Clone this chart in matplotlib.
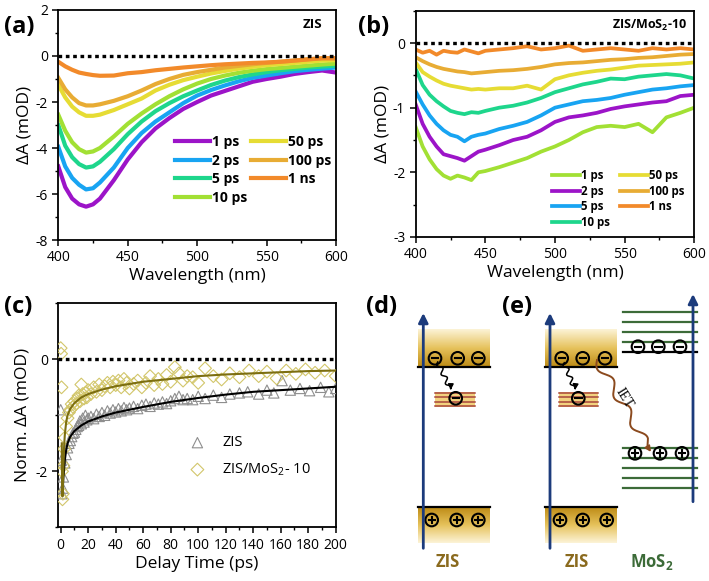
import numpy as np
import matplotlib
matplotlib.use("Agg")
import matplotlib.pyplot as plt
from matplotlib.patches import Circle, Rectangle
from matplotlib.colors import LinearSegmentedColormap
from matplotlib.ticker import MultipleLocator

plt.rcParams.update({
    "font.family": ["Open Sans", "DejaVu Sans"],
    "mathtext.fontset": "custom",
    "mathtext.rm": "Open Sans",
    "mathtext.bf": "Open Sans:bold",
    "axes.unicode_minus": False,
    "axes.linewidth": 1.3,
    "xtick.direction": "out", "ytick.direction": "out",
    "xtick.major.size": 4, "ytick.major.size": 4,
    "xtick.minor.size": 2.5, "ytick.minor.size": 2.5,
    "xtick.major.width": 1.1, "ytick.major.width": 1.1,
    "xtick.minor.width": 1.0, "ytick.minor.width": 1.0,
    "xtick.labelsize": 10, "ytick.labelsize": 10,
})

# ---------------- data: panel (a) ZIS ----------------
wl_a = [400, 405, 410, 415, 420, 425, 430, 440, 450, 460, 470, 480, 490, 500,
        510, 520, 530, 540, 550, 560, 570, 580, 590, 600]
a_1ps = [-4.8, -5.7, -6.2, -6.45, -6.55, -6.45, -6.2, -5.4, -4.5, -3.75, -3.15, -2.7,
         -2.3, -2.0, -1.72, -1.52, -1.32, -1.12, -1.0, -0.9, -0.78, -0.7, -0.63, -0.72]
a_2ps = [-3.95, -4.8, -5.3, -5.6, -5.8, -5.75, -5.5, -4.85, -4.0, -3.35, -2.85, -2.45,
         -2.05, -1.72, -1.48, -1.28, -1.1, -0.95, -0.85, -0.75, -0.66, -0.6, -0.55, -0.5]
a_5ps = [-3.0, -3.9, -4.4, -4.7, -4.85, -4.8, -4.6, -4.05, -3.4, -2.85, -2.4, -2.05,
         -1.75, -1.5, -1.26, -1.07, -0.92, -0.8, -0.7, -0.62, -0.56, -0.5, -0.46, -0.42]
a_10ps = [-2.55, -3.25, -3.75, -4.05, -4.2, -4.15, -4.0, -3.5, -2.95, -2.5, -2.1, -1.75,
          -1.45, -1.2, -1.0, -0.85, -0.73, -0.64, -0.57, -0.52, -0.47, -0.42, -0.37, -0.33]
a_50ps = [-1.25, -1.8, -2.2, -2.45, -2.6, -2.6, -2.55, -2.35, -2.1, -1.85, -1.5, -1.25,
          -1.05, -0.9, -0.76, -0.65, -0.55, -0.47, -0.4, -0.35, -0.3, -0.25, -0.2, -0.18]
a_100ps = [-0.95, -1.45, -1.8, -2.05, -2.15, -2.15, -2.1, -1.95, -1.75, -1.5, -1.22, -1.0,
           -0.82, -0.7, -0.6, -0.5, -0.43, -0.36, -0.3, -0.25, -0.2, -0.14, -0.1, -0.1]
a_1ns = [-0.25, -0.45, -0.6, -0.72, -0.78, -0.83, -0.86, -0.85, -0.75, -0.7, -0.62, -0.56,
         -0.5, -0.45, -0.4, -0.36, -0.33, -0.3, -0.28, -0.25, -0.2, -0.15, -0.1, -0.1]

# ---------------- data: panel (b) ZIS/MoS2-10 ----------------
wl_b = [400, 405, 410, 415, 420, 425, 430, 435, 440, 445, 450, 460, 470, 480, 490,
        500, 510, 520, 530, 540, 550, 560, 570, 580, 590, 600]
b_1ps = [-1.3, -1.6, -1.8, -1.95, -2.05, -2.1, -2.05, -2.08, -2.12, -2.0, -1.98, -1.92, -1.85,
         -1.78, -1.68, -1.6, -1.5, -1.38, -1.3, -1.28, -1.3, -1.25, -1.38, -1.15, -1.08, -1.0]
b_2ps = [-0.95, -1.25, -1.45, -1.6, -1.72, -1.75, -1.78, -1.82, -1.75, -1.68, -1.65, -1.58, -1.5,
         -1.45, -1.35, -1.22, -1.15, -1.12, -1.08, -1.02, -0.98, -0.95, -0.92, -0.9, -0.82, -0.8]
b_5ps = [-0.75, -0.95, -1.12, -1.25, -1.35, -1.42, -1.45, -1.52, -1.45, -1.42, -1.4, -1.33, -1.28,
         -1.22, -1.12, -1.0, -0.95, -0.9, -0.88, -0.85, -0.8, -0.76, -0.72, -0.7, -0.67, -0.65]
b_10ps = [-0.4, -0.65, -0.8, -0.9, -0.98, -1.05, -1.08, -1.1, -1.07, -1.08, -1.05, -1.0, -0.97,
          -0.92, -0.85, -0.76, -0.7, -0.64, -0.6, -0.55, -0.56, -0.52, -0.5, -0.48, -0.5, -0.55]
b_50ps = [-0.3, -0.45, -0.52, -0.58, -0.63, -0.66, -0.68, -0.7, -0.72, -0.71, -0.72, -0.7, -0.7,
          -0.66, -0.72, -0.56, -0.5, -0.46, -0.43, -0.41, -0.38, -0.35, -0.34, -0.33, -0.32, -0.3]
b_100ps = [-0.22, -0.28, -0.33, -0.37, -0.4, -0.42, -0.44, -0.45, -0.47, -0.46, -0.45, -0.43, -0.42,
           -0.4, -0.37, -0.33, -0.31, -0.3, -0.28, -0.26, -0.25, -0.23, -0.22, -0.2, -0.18, -0.17]
b_1ns = [-0.1, -0.15, -0.12, -0.18, -0.12, -0.14, -0.15, -0.1, -0.13, -0.16, -0.12, -0.1, -0.08,
         -0.05, -0.1, -0.08, -0.04, -0.12, -0.1, -0.08, -0.1, -0.12, -0.08, -0.1, -0.08, -0.1]

# ---------------- data: panel (c) kinetics ----------------
t_zis = [0, 0.5, 1, 1.5, 2, 3, 4, 5, 6, 7, 8, 9, 10, 11, 12, 13, 14, 15, 16, 17, 18, 19, 20,
         22, 24, 26, 28, 30, 32, 34, 36, 38, 40, 42, 44, 46, 48, 50, 53, 56, 59, 62, 65, 68,
         71, 74, 77, 80, 83, 86, 89, 92, 96, 100, 105, 111, 117, 123, 130, 136, 144, 150,
         155, 161, 167, 174, 181, 189, 195, 200]
y_zis = [-0.9, -1.8, -2.4, -2.3, -2.1, -1.85, -1.7, -1.58, -1.5, -1.45, -1.38, -1.32, -1.3,
         -1.25, -1.2, -1.18, -1.1, -1.15, -1.05, -1.12, -1.0, -1.08, -1.05, -1.02, -1.06,
         -0.98, -1.02, -0.95, -1.0, -0.92, -0.96, -0.9, -0.94, -0.88, -0.92, -0.86, -0.9,
         -0.87, -0.84, -0.88, -0.82, -0.8, -0.84, -0.78, -0.8, -0.76, -0.79, -0.74, -0.7,
         -0.66, -0.72, -0.7, -0.72, -0.66, -0.7, -0.64, -0.68, -0.62, -0.6, -0.58, -0.62,
         -0.55, -0.6, -0.38, -0.55, -0.52, -0.56, -0.5, -0.58, -0.52]
t_mos = [0, 0.3, 0.6, 1, 1.3, 1.6, 2, 2.5, 3, 4, 5, 6, 7, 8, 9, 10, 11, 12, 13, 14, 15, 16,
         17, 18, 19, 20, 22, 24, 26, 28, 30, 32, 34, 36, 38, 40, 42, 44, 46, 48, 50, 53, 56,
         59, 62, 65, 68, 71, 74, 77, 80, 83, 86, 89, 92, 96, 100, 105, 111, 117, 123, 130,
         137, 144, 150, 157, 164, 171, 178, 185, 192, 200]
y_mos = [0.2, 0.1, -0.5, -2.0, -2.5, -2.4, -1.9, -1.6, -1.4, -1.2, -1.05, -0.95, -0.9, -0.8,
         -0.85, -0.75, -0.8, -0.7, -0.65, -0.75, -0.45, -0.62, -0.7, -0.6, -0.68, -0.55,
         -0.62, -0.5, -0.58, -0.45, -0.55, -0.48, -0.42, -0.5, -0.4, -0.46, -0.38, -0.5,
         -0.35, -0.42, -0.52, -0.44, -0.38, -0.5, -0.42, -0.3, -0.46, -0.35, -0.44, -0.28,
         -0.4, -0.14, -0.25, -0.38, -0.3, -0.32, -0.42, -0.16, -0.3, -0.36, -0.25, -0.32,
         -0.2, -0.3, -0.22, -0.34, -0.2, -0.26, -0.18, -0.24, -0.2, -0.3]
tf_zis = [1, 1.5, 2, 3, 4, 5, 7, 10, 15, 20, 30, 40, 50, 60, 80, 100, 120, 140, 160, 180, 200]
yf_zis = [-2.4, -2.3, -2.1, -1.8, -1.62, -1.5, -1.38, -1.28, -1.18, -1.11, -1.02, -0.95,
          -0.9, -0.85, -0.76, -0.69, -0.63, -0.58, -0.55, -0.52, -0.49]
tf_mos = [0.8, 1, 1.3, 1.6, 2, 2.5, 3, 4, 5, 7, 10, 15, 20, 30, 40, 50, 60, 80, 100, 120,
          140, 160, 180, 200]
yf_mos = [-1.5, -2.2, -2.45, -2.3, -1.9, -1.55, -1.35, -1.12, -1.0, -0.88, -0.78, -0.68,
          -0.62, -0.54, -0.48, -0.44, -0.4, -0.35, -0.3, -0.27, -0.25, -0.23, -0.21, -0.2]

PURPLE = "#9C14C8"; BLUE = "#18A4F2"; TEAL = "#1ED68C"; LIME = "#A2E034"
YELLOW = "#E6DC34"; GOLD = "#E8AC34"; ORANGE = "#F28A2A"
NAVY = "#1C3B7C"; ZISC = "#8A6A1E"; MOSC = "#3C6B38"


def frame(ax):
    for s in ax.spines.values():
        s.set_color("black")
    ax.tick_params(top=False, right=False)
    ax.tick_params(which="minor", top=False, right=False)


def zero_line(ax, x0, x1):
    ax.plot([x0, x1], [0, 0], color="black", lw=2.4, linestyle=(0, (1.1, 1.1)), zorder=5)


fig = plt.figure(figsize=(7.09, 5.81), dpi=100)

# ---------------- (a) ----------------
ax_a = fig.add_axes([0.0822, 0.5869, 0.3917, 0.3959])
series_a = [("1 ps", a_1ps, PURPLE), ("2 ps", a_2ps, BLUE), ("5 ps", a_5ps, TEAL),
            ("10 ps", a_10ps, LIME), ("50 ps", a_50ps, YELLOW), ("100 ps", a_100ps, GOLD),
            ("1 ns", a_1ns, ORANGE)]
for lab, v, c in series_a:
    ax_a.plot(wl_a, v, color=c, lw=3.0, label=lab)
zero_line(ax_a, 400, 600)
ax_a.set_xlim(400, 600); ax_a.set_ylim(-8, 2)
ax_a.xaxis.set_major_locator(MultipleLocator(50)); ax_a.xaxis.set_minor_locator(MultipleLocator(25))
ax_a.yaxis.set_major_locator(MultipleLocator(2)); ax_a.yaxis.set_minor_locator(MultipleLocator(1))
ax_a.set_xlabel("Wavelength (nm)", fontsize=12.5, labelpad=2)
ax_a.set_ylabel("ΔA (mOD)", fontsize=12.5, labelpad=2)
ax_a.text(0.95, 0.935, "ZIS", transform=ax_a.transAxes, ha="right", va="center",
          fontsize=9.5, fontweight="bold")
ax_a.legend(loc="upper left", bbox_to_anchor=(0.42, 0.455), ncol=2, frameon=False,
            prop={"weight": "bold", "size": 10}, handlelength=2.5, handletextpad=0.15,
            columnspacing=0.3, labelspacing=0.32, borderpad=0, borderaxespad=0)
frame(ax_a)
fig.text(0.006, 0.975, "(a)", fontsize=17, fontweight="bold", va="top")

# ---------------- (b) ----------------
ax_b = fig.add_axes([0.5863, 0.5921, 0.3929, 0.3895])
series_b = [("1 ps", b_1ps, LIME), ("2 ps", b_2ps, PURPLE), ("5 ps", b_5ps, BLUE),
            ("10 ps", b_10ps, TEAL), ("50 ps", b_50ps, YELLOW), ("100 ps", b_100ps, GOLD),
            ("1 ns", b_1ns, ORANGE)]
for lab, v, c in series_b:
    ax_b.plot(wl_b, v, color=c, lw=2.7, label=lab)
zero_line(ax_b, 400, 600)
ax_b.set_xlim(400, 600); ax_b.set_ylim(-3, 0.5)
ax_b.xaxis.set_major_locator(MultipleLocator(50)); ax_b.xaxis.set_minor_locator(MultipleLocator(25))
ax_b.yaxis.set_major_locator(MultipleLocator(1)); ax_b.yaxis.set_minor_locator(MultipleLocator(0.5))
ax_b.set_xlabel("Wavelength (nm)", fontsize=12.5, labelpad=2)
ax_b.set_ylabel("ΔA (mOD)", fontsize=12.5, labelpad=2)
ax_b.text(0.975, 0.935, r"ZIS/MoS$_\mathbf{2}$-10", transform=ax_b.transAxes, ha="right",
          va="center", fontsize=9, fontweight="bold")
ax_b.legend(loc="upper left", bbox_to_anchor=(0.49, 0.30), ncol=2, frameon=False,
            prop={"weight": "bold", "size": 8.3}, handlelength=2.4, handletextpad=0.1,
            columnspacing=0.9, labelspacing=0.22, borderpad=0, borderaxespad=0)
frame(ax_b)
fig.text(0.505, 0.975, "(b)", fontsize=17, fontweight="bold", va="top")

# ---------------- (c) ----------------
ax_c = fig.add_axes([0.0822, 0.0924, 0.3913, 0.3855])
ax_c.plot(tf_zis, yf_zis, color="black", lw=1.5, zorder=4)
ax_c.plot(tf_mos, yf_mos, color="#7C6E10", lw=1.5, zorder=4)
ax_c.scatter(t_zis, y_zis, marker="^", s=55, facecolors="none", edgecolors="#8E8E8E",
             linewidths=0.8, label="ZIS", zorder=3)
ax_c.scatter(t_mos, y_mos, marker="D", s=42, facecolors="none", edgecolors="#D2C66A",
             linewidths=0.8, label=r"ZIS/MoS$_2$- 10", zorder=3)
zero_line(ax_c, -1.75, 200)
ax_c.set_xlim(-1.75, 200); ax_c.set_ylim(-3, 1)
ax_c.xaxis.set_major_locator(MultipleLocator(20)); ax_c.xaxis.set_minor_locator(MultipleLocator(10))
ax_c.yaxis.set_major_locator(MultipleLocator(2)); ax_c.yaxis.set_minor_locator(MultipleLocator(1))
ax_c.set_xlabel("Delay Time (ps)", fontsize=12.5, labelpad=2)
ax_c.set_ylabel("Norm. ΔA (mOD)", fontsize=12.5, labelpad=4)
ax_c.legend(loc="upper left", bbox_to_anchor=(0.47, 0.41), frameon=False, fontsize=10.5,
            handlelength=1.2, handletextpad=1.1, labelspacing=0.75, borderpad=0,
            borderaxespad=0, scatterpoints=1)
frame(ax_c)
fig.text(0.006, 0.492, "(c)", fontsize=17, fontweight="bold", va="top")

# ---------------- (d), (e) schematic, pixel coordinates ----------------
ax_s = fig.add_axes([360 / 709, 0, 349 / 709, 291 / 581])
ax_s.set_xlim(360, 709); ax_s.set_ylim(581, 290); ax_s.axis("off")

gold = LinearSegmentedColormap.from_list("gold", ["#FCF3D6", "#E6C25C", "#BE8C16"])
ramp = np.linspace(0, 1, 64)[:, None]

CB_TOP, CB_LINE = 330, 367.3
VB_LINE, VB_BOT = 507.3, 543.3
E_Y, H_Y = 358.3, 520
TRAP_Y0, TRAP_Y1, TRAP_E = 391.7, 407.3, 398.3


def band(x0, x1, top, bottom, dark_bottom):
    g = ramp if dark_bottom else ramp[::-1]
    ax_s.imshow(g, cmap=gold, extent=[x0, x1, bottom, top], aspect="auto", zorder=1)
    yl = bottom if dark_bottom else top
    ax_s.plot([x0, x1], [yl, yl], color="black", lw=1.6, zorder=3)


def carrier(x, y, sign, r=6.3):
    ax_s.add_patch(Circle((x, y), r, facecolor="none", edgecolor="black", lw=1.5, zorder=6))
    ax_s.plot([x - 3.2, x + 3.2], [y, y], color="black", lw=1.5, zorder=6)
    if sign > 0:
        ax_s.plot([x, x], [y - 3.2, y + 3.2], color="black", lw=1.5, zorder=6)


def trap(x0, x1):
    ax_s.add_patch(Rectangle((x0, TRAP_Y0), x1 - x0, TRAP_Y1 - TRAP_Y0,
                             facecolor="#F2D27E", edgecolor="none", zorder=2))
    for yy in np.linspace(TRAP_Y0 + 1.5, TRAP_Y1 - 1.5, 4):
        ax_s.plot([x0, x1], [yy, yy], color="#A8463C", lw=1.1, zorder=3)


def wavy(p0, p1, amp, nwave, color, lw):
    p0 = np.asarray(p0, float); p1 = np.asarray(p1, float)
    d = p1 - p0; u = d / np.hypot(*d); n = np.array([-u[1], u[0]])
    s = np.linspace(0, 1, 240)
    off = amp * np.sin(2 * np.pi * nwave * s) * np.clip((1 - s) * 8, 0, 1)
    pts = p0 + s[:, None] * d + off[:, None] * n
    ax_s.plot(pts[:-12, 0], pts[:-12, 1], color=color, lw=lw, zorder=7)
    ax_s.annotate("", xy=pts[-1], xytext=pts[-14], zorder=7,
                  arrowprops=dict(arrowstyle="-|>", color=color, lw=lw, mutation_scale=8,
                                  shrinkA=0, shrinkB=0))


def vaxis(x, y0, y1):
    ax_s.annotate("", xy=(x, y1), xytext=(x, y0), zorder=8,
                  arrowprops=dict(arrowstyle="-|>", color=NAVY, lw=2.0, mutation_scale=14,
                                  shrinkA=0, shrinkB=0))


# (d)
band(418, 490, CB_TOP, CB_LINE, True)
band(418, 490, VB_LINE, VB_BOT, False)
for x in (435, 457.7, 478.3):
    carrier(x, E_Y, -1)
for x in (431.7, 456.7, 478.3):
    carrier(x, H_Y, 1)
trap(435, 475)
carrier(455.7, TRAP_E, -1)
wavy((437.7, 362), (450.7, 390), 2.2, 3.0, "black", 1.1)
vaxis(423.3, 548.3, 313)
ax_s.text(448, 562, "ZIS", color=ZISC, fontsize=12, fontweight="bold", ha="center", va="center")
ax_s.text(382, 307, "(d)", fontsize=17, fontweight="bold", ha="center", va="center")

# (e)
band(545, 616.7, CB_TOP, CB_LINE, True)
band(545, 616.7, VB_LINE, VB_BOT, False)
for x in (561.7, 582.7, 605):
    carrier(x, E_Y, -1)
for x in (560, 582.7, 606.7):
    carrier(x, H_Y, 1)
trap(559.3, 598.3)
carrier(578.3, TRAP_E, -1)
wavy((564.3, 362.7), (575, 390), 2.2, 3.0, "black", 1.1)
wavy((597, 360), (651, 452), 4.5, 3.2, "#8B4A1E", 1.4)
ax_s.text(624, 398, "IET", family=["Liberation Serif", "DejaVu Serif"], fontsize=10,
          rotation=-58, ha="center", va="center", zorder=8)
vaxis(550, 548.3, 313)
ax_s.text(577, 562, "ZIS", color=ZISC, fontsize=12, fontweight="bold", ha="center", va="center")
ax_s.text(517, 307, "(e)", fontsize=17, fontweight="bold", ha="center", va="center")

# MoS2 levels
for yy in (311.7, 321.7, 331.7, 341.7):
    ax_s.plot([623.3, 696.7], [yy, yy], color=MOSC, lw=1.6, zorder=2)
ax_s.plot([623.3, 696.7], [352.3, 352.3], color="black", lw=1.6, zorder=2)
for yy in (448.3, 458.3, 468.3, 478.3, 488.3):
    ax_s.plot([623.3, 696.7], [yy, yy], color=MOSC, lw=1.6, zorder=2)
for x in (638, 658.3, 680):
    carrier(x, 346.7, -1)
for x in (635, 660, 682):
    carrier(x, 453.3, 1)
vaxis(693, 501.7, 294)
ax_s.text(652, 562, r"MoS$_\mathbf{2}$", color=MOSC, fontsize=12, fontweight="bold",
          ha="center", va="center")

fig.savefig("out.png", dpi=100)
